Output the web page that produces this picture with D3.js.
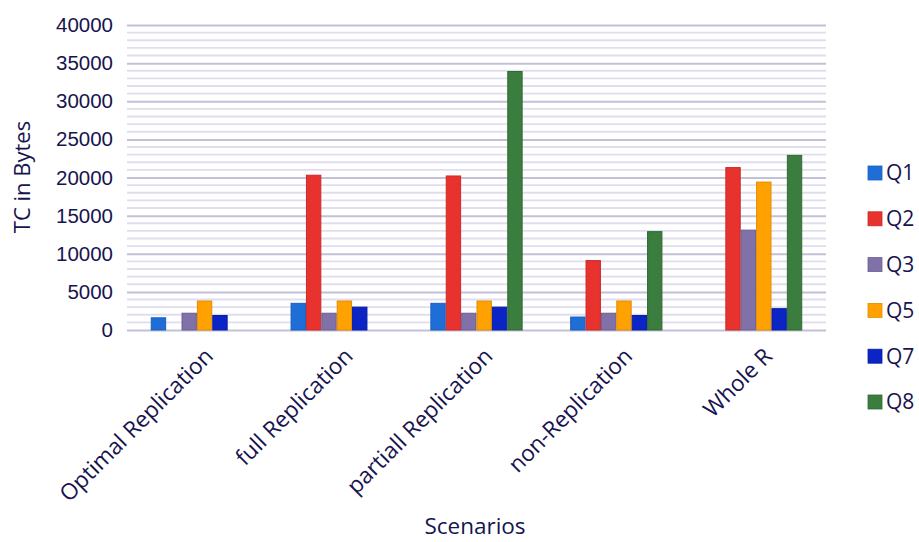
<!DOCTYPE html>
<html>
<head>
<meta charset="utf-8">
<script src="https://cdn.jsdelivr.net/npm/d3@7"></script>
<style>
  html, body { margin: 0; padding: 0; background: #ffffff; }
  svg { display: block; font-family: "Open Sans", "Noto Sans", sans-serif; }
</style>
</head>
<body>
<svg id="chart" width="919" height="542"></svg>
<script>
// Scenario categories along the x axis
const scenarios = ["Optimal Replication", "full Replication", "partiall Replication", "non-Replication", "Whole R"];
// Query series shown in the legend
const queries = ["Q1", "Q2", "Q3", "Q5", "Q7", "Q8"];
// Transfer cost (bytes) per query, one value per scenario
const q1 = [1600, 3500, 3500, 1700, 0];
const q2 = [0, 20300, 20200, 9100, 21300];
const q3 = [2200, 2200, 2200, 2200, 13100];
const q5 = [3800, 3800, 3800, 3800, 19400];
const q7 = [1900, 3000, 3000, 1900, 2800];
const q8 = [0, 0, 33900, 12900, 22900];
const yTicks = [0, 5000, 10000, 15000, 20000, 25000, 30000, 35000, 40000];

const seriesValues = [q1, q2, q3, q5, q7, q8];
const fills   = ["#1f6ed8", "#e8322e", "#8072a8", "#ffa100", "#0a24c6", "#3a7d3e"];
const strokes = ["#1a5fbf", "#c92a27", "#6c5f92", "#e08c00", "#081ea6", "#2f6a33"];
const textColor = "#17144f";

const svg = d3.select("#chart");
const margin = { left: 127, right: 93, top: 25, bottom: 212 };
const W = 919, H = 542;
const plotW = W - margin.left - margin.right;
const plotH = H - margin.top - margin.bottom;

const x0 = d3.scaleBand().domain(scenarios).range([margin.left, margin.left + plotW]).paddingInner(0.34).paddingOuter(0.17);
const x1 = d3.scaleBand().domain(queries).range([0, x0.bandwidth()]);
const y = d3.scaleLinear().domain([0, 40000]).range([margin.top + plotH, margin.top]);

// Minor gridlines every 1000
const minor = d3.range(1000, 40000, 1000).filter(v => v % 5000 !== 0);
svg.append("g").selectAll("line").data(minor).join("line")
  .attr("x1", margin.left).attr("x2", margin.left + plotW)
  .attr("y1", d => y(d)).attr("y2", d => y(d))
  .attr("stroke", "#e0deee").attr("stroke-width", 1.8);

// Major gridlines and tick labels
const yAxis = d3.axisLeft(y).tickValues(yTicks).tickSize(-plotW).tickFormat(d3.format("d")).tickPadding(14);
const gy = svg.append("g").attr("transform", `translate(${margin.left},0)`).call(yAxis);
gy.select(".domain").remove();
gy.selectAll(".tick line").attr("stroke", "#c3c0da").attr("stroke-width", 2);
gy.selectAll(".tick text").attr("fill", textColor).style("font-size", "20.5px");

// Bars
const groups = svg.append("g").selectAll("g").data(scenarios).join("g")
  .attr("transform", d => `translate(${x0(d)},0)`);
groups.selectAll("rect")
  .data((d, i) => queries.map((q, k) => ({ q, k, v: seriesValues[k][i] })).filter(e => e.v > 0))
  .join("rect")
  .attr("x", e => x1(e.q) + 0.5)
  .attr("width", x1.bandwidth() - 1)
  .attr("y", e => y(e.v))
  .attr("height", e => y(0) - y(e.v))
  .attr("fill", e => fills[e.k])
  .attr("stroke", e => strokes[e.k])
  .attr("stroke-width", 1);

// Category labels, rotated
svg.append("g").selectAll("text").data(scenarios).join("text")
  .attr("transform", d => `translate(${x0(d) + x0.bandwidth() / 2 + 12},${y(0) + 22}) rotate(-45)`)
  .attr("text-anchor", "end")
  .attr("dy", "0.35em")
  .attr("fill", textColor)
  .style("font-size", "22.5px")
  .text(d => d);

// Axis titles
svg.append("text")
  .attr("transform", `translate(30,177) rotate(-90)`)
  .attr("text-anchor", "middle")
  .attr("fill", textColor)
  .style("font-size", "22px")
  .text("TC in Bytes");

svg.append("text")
  .attr("x", 475).attr("y", 534)
  .attr("text-anchor", "middle")
  .attr("fill", textColor)
  .style("font-size", "22.5px")
  .text("Scenarios");

// Legend
const legend = svg.append("g").selectAll("g").data(queries).join("g")
  .attr("transform", (d, i) => `translate(868,${173 + i * 45.8})`);
legend.append("rect")
  .attr("x", 0).attr("y", -7).attr("width", 14).attr("height", 14)
  .attr("fill", (d, i) => fills[i]).attr("stroke", (d, i) => strokes[i]).attr("stroke-width", 0.8);
legend.append("text")
  .attr("x", 18).attr("y", 0).attr("dy", "0.35em")
  .attr("fill", textColor)
  .style("font-size", "21px")
  .text(d => d);
</script>
</body>
</html>
